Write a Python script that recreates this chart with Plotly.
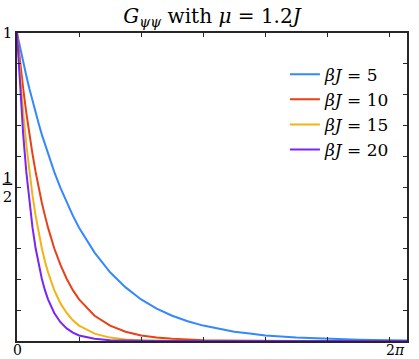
import numpy as np
import plotly.graph_objects as go

# imaginary-time grid (0 .. 2*pi) and G values
tau = [0, 0.05, 0.1, 0.15, 0.2, 0.25, 0.3, 0.35, 0.4, 0.45, 0.5, 0.6, 0.7, 0.8, 0.9,
       1.0, 1.25, 1.5, 1.75, 2.0, 2.25, 2.5, 2.75, 3.0, 3.25, 3.5, 3.75, 4.0, 4.5,
       5.0, 5.5, 6.0, 6.283]

g_bj5 = [1.0, 0.951, 0.905, 0.861, 0.819, 0.779, 0.741, 0.705, 0.670, 0.638, 0.607,
         0.549, 0.497, 0.449, 0.407, 0.368, 0.287, 0.223, 0.174, 0.135, 0.105, 0.082,
         0.064, 0.050, 0.039, 0.030, 0.024, 0.018, 0.011, 0.007, 0.004, 0.0025, 0.002]
g_bj10 = [1.0, 0.905, 0.819, 0.741, 0.670, 0.607, 0.549, 0.497, 0.449, 0.407, 0.368,
          0.301, 0.247, 0.202, 0.165, 0.135, 0.082, 0.050, 0.030, 0.018, 0.011, 0.007,
          0.004, 0.0025, 0.0015, 0.0009, 0.0005, 0.0003, 0.0001, 0, 0, 0, 0]
g_bj15 = [1.0, 0.861, 0.741, 0.638, 0.549, 0.472, 0.407, 0.350, 0.301, 0.259, 0.223,
          0.165, 0.122, 0.091, 0.067, 0.050, 0.024, 0.011, 0.005, 0.0025, 0.0012,
          0.0006, 0.0003, 0.0001, 0, 0, 0, 0, 0, 0, 0, 0, 0]
g_bj20 = [1.0, 0.819, 0.670, 0.549, 0.449, 0.368, 0.301, 0.247, 0.202, 0.165, 0.135,
          0.091, 0.061, 0.041, 0.027, 0.018, 0.007, 0.0025, 0.0009, 0.0003, 0.0001,
          0, 0, 0, 0, 0, 0, 0, 0, 0, 0, 0, 0]

series = [("<i>βJ</i> = 5", g_bj5, "rgb(51,136,255)"),
          ("<i>βJ</i> = 10", g_bj10, "rgb(232,64,24)"),
          ("<i>βJ</i> = 15", g_bj15, "rgb(242,180,20)"),
          ("<i>βJ</i> = 20", g_bj20, "rgb(122,36,245)")]

x_ticks = [0, 1, 2, 3, 4, 5, 6]
x_labels = [(0, "0", "center"), (2 * np.pi, "2<i>π</i>", "right")]

y_ticks = [round(0.1 * i, 1) for i in range(11)]
y_text = ["" for _ in y_ticks]
y_text[5] = "<u>1</u><br>2"
y_text[10] = "1"

fig = go.Figure()
for name, g, col in series:
    fig.add_trace(go.Scatter(x=tau, y=g, mode="lines", name=name,
                             line=dict(color=col, width=2)))

axis_col = "rgb(38,38,38)"
serif = "DejaVu Serif"

fig.update_layout(
    width=419, height=359,
    margin=dict(l=17, r=12, t=33, b=18),
    paper_bgcolor="white", plot_bgcolor="white",
    font=dict(family=serif, size=15, color="black"),
    title=dict(text="<i>G</i><sub><i>ψψ</i></sub> with <i>μ</i> = 1.2<i>J</i>",
               x=0.506, xanchor="center", y=0.955, yanchor="middle",
               font=dict(family=serif, size=20, color="black")),
    showlegend=True,
    legend=dict(x=0.687, y=0.923, xanchor="left", yanchor="top",
                bgcolor="rgba(0,0,0,0)", borderwidth=0,
                font=dict(family=serif, size=17), tracegroupgap=0),
)
fig.update_xaxes(range=[0, 2 * np.pi], tickvals=x_ticks, showticklabels=False,
                 ticks="inside", ticklen=4, tickwidth=1, tickcolor=axis_col,
                 showline=True, linecolor=axis_col, linewidth=1.5, mirror="ticks",
                 showgrid=False, zeroline=False, automargin=False)
fig.update_yaxes(range=[0, 1], tickvals=y_ticks, ticktext=y_text,
                 ticks="inside", ticklen=4, tickwidth=1, tickcolor=axis_col,
                 showline=True, linecolor=axis_col, linewidth=1.5, mirror="ticks",
                 showgrid=False, zeroline=False, automargin=False,
                 tickfont=dict(family=serif, size=15))

# x tick labels only at both ends
for xv, txt, anchor in x_labels:
    fig.add_annotation(x=xv, y=0, xref="x", yref="paper", text=txt,
                       showarrow=False, xanchor=anchor, yanchor="top", yshift=1,
                       font=dict(family=serif, size=14, color="black"))

# drop the page's default body margin so the figure sits at the window corner
fig.write_html("out.html", config={"displayModeBar": False},
               post_script="document.body.style.margin='0';")
